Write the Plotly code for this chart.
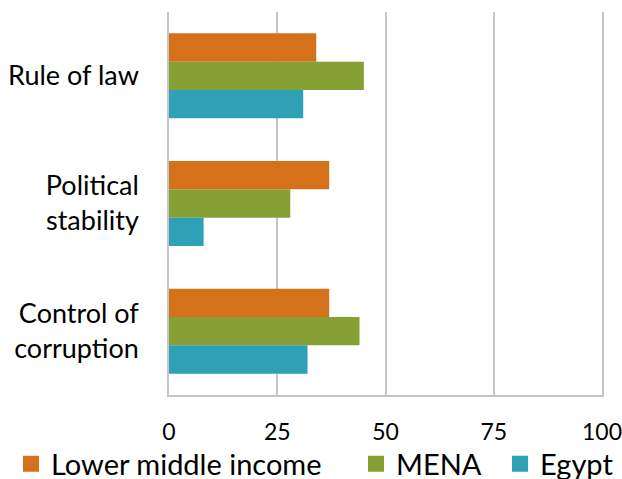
import plotly.graph_objects as go

categories = ["Rule of law", "Political<br>stability", "Control of<br>corruption"]
series_names = ["Lower middle income", "MENA", "Egypt"]
lower_middle = [34, 37, 37]
mena = [45, 28, 44]
egypt = [31, 8, 32]
colors = ["#D57219", "#87A033", "#2FA1B6"]
x_ticks = [0, 25, 50, 75, 100]

fig = go.Figure()
for name, vals, col in zip(series_names, [lower_middle, mena, egypt], colors):
    fig.add_trace(go.Bar(
        y=categories, x=vals, orientation="h", name=name,
        marker=dict(color=col, line=dict(width=0)),
        showlegend=False,
    ))
legend_ids = ["legend", "legend2", "legend3"]
for name, col, lid in zip(series_names, colors, legend_ids):
    fig.add_trace(go.Scatter(
        x=[None], y=[None], mode="markers", name=name, legend=lid,
        marker=dict(symbol="square", size=16, color=col),
    ))

FONT = "Lato"
legend_px = [11, 356, 500]  # approximate left pixel positions of each legend box
plot_left, plot_w = 169, 433


def leg(px):
    return dict(
        orientation="h", x=(px - plot_left) / plot_w, xanchor="left",
        y=-0.18, yanchor="middle", font=dict(size=29, family=FONT),
        itemwidth=30, bgcolor="rgba(0,0,0,0)", borderwidth=0,
    )


fig.update_layout(
    width=622, height=479,
    margin=dict(l=169, r=20, t=12, b=84, autoexpand=False),
    paper_bgcolor="white", plot_bgcolor="white",
    barmode="group", bargap=0.334, bargroupgap=0,
    font=dict(family=FONT, size=27, color="#000000"),
    xaxis=dict(
        range=[0, 100], tickvals=x_ticks, ticktext=[str(v) for v in x_ticks],
        showgrid=True, gridcolor="#C4C4C4", gridwidth=1.5,
        zeroline=False, showline=True, linecolor="#C4C4C4", linewidth=1.5,
        ticks="outside", ticklen=16, tickcolor="rgba(0,0,0,0)",
        tickfont=dict(size=23), fixedrange=True, ticklabeloverflow="allow",
    ),
    yaxis=dict(
        autorange="reversed", showgrid=False, zeroline=False,
        showline=True, mirror=True, linecolor="#C4C4C4", linewidth=1.5,
        ticks="outside", ticklen=23, tickcolor="rgba(0,0,0,0)",
        tickfont=dict(size=27),
    ),
    legend=leg(legend_px[0]),
    legend2=leg(legend_px[1]),
    legend3=leg(legend_px[2]),
)
fig.write_html("out.html")
